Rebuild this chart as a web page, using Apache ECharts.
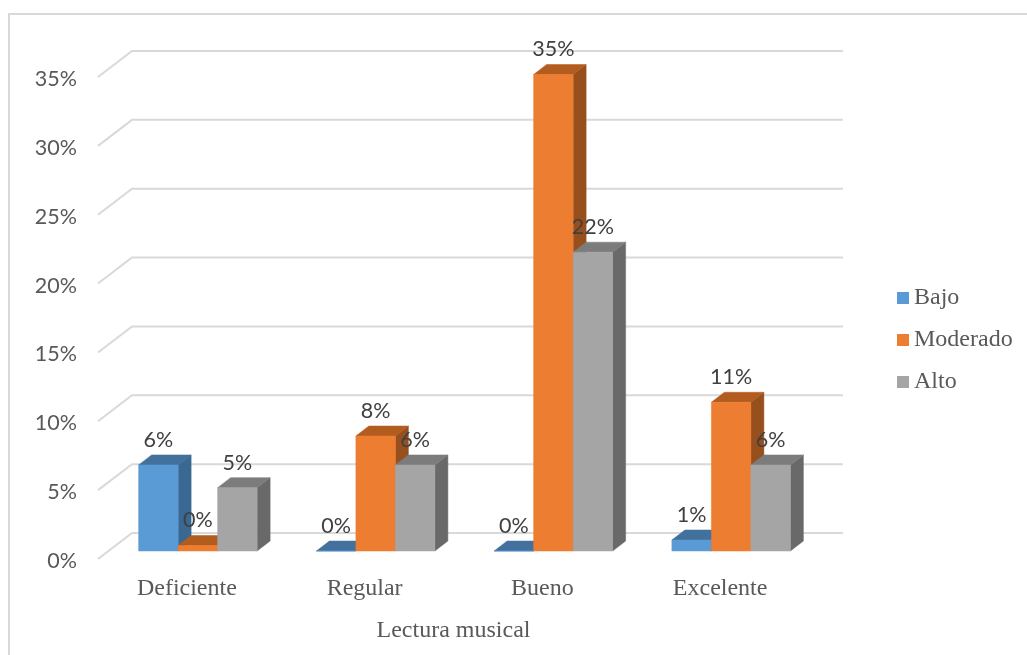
<!DOCTYPE html>
<html><head><meta charset="utf-8">
<style>html,body{margin:0;padding:0;background:#fff}#c{width:1027px;height:655px}</style>
<script src="https://cdn.jsdelivr.net/npm/echarts@6/dist/echarts.min.js"></script>
</head><body><div id="c"></div>
<script>
const categories = ['Deficiente','Regular','Bueno','Excelente'];
const bajo = [6.25, 0, 0, 0.8];
const moderado = [0.4, 8.35, 34.6, 10.8];
const alto = [4.6, 6.25, 21.7, 6.25];
const ticks = [0,5,10,15,20,25,30,35];
const faces = {
  Bajo:{front:'#5b9bd5',top:'#41719c',side:'#396892'},
  Moderado:{front:'#ed7d31',top:'#b35c20',side:'#974f1d'},
  Alto:{front:'#a5a5a5',top:'#7c7c7c',side:'#696969'}
};
const chart = echarts.init(document.getElementById('c'),null,{renderer:'canvas'});
const DX=13, DY=10;
function bar3d(idx,name){
  const f=faces[name];
  return function(params,api){
    const cat=api.value(0), val=api.value(1);
    const band=api.size([1,0])[0];
    const w=band/4.5;
    const base=api.coord([cat,0]);
    const top=api.coord([cat,val]);
    const x0=base[0]-1.5*w+idx*w, x1=x0+w, yb=base[1], yt=top[1];
    const poly=(pts,c)=>({type:'polygon',shape:{points:pts},style:{fill:c,stroke:c,lineWidth:0.5}});
    return {type:'group',children:[
      poly([[x1,yb],[x1+DX,yb-DY],[x1+DX,yt-DY],[x1,yt]],f.side),
      poly([[x0,yt],[x0+DX,yt-DY],[x1+DX,yt-DY],[x1,yt]],f.top),
      poly([[x0,yb],[x1,yb],[x1,yt],[x0,yt]],f.front),
      {type:'text',z2:50,style:{x:(x0+x1)/2,y:yt-25,text:Math.round(val)+'%',align:'center',verticalAlign:'middle',
        font:'21.5px Lato',fill:'#404040'}}
    ]};
  };
}
const wallRender=function(params,api){
  const p=api.coord([0,api.value(0)]);
  const band=api.size([1,0])[0];
  const fx=p[0]-band/2;
  const bx=fx+34, by=p[1]-26;
  return {type:'polyline',shape:{points:[[fx,p[1]],[bx,by],[bx+band*4,by]]},
    style:{stroke:'#d9d9d9',lineWidth:2,fill:null}};
};
function series(name,idx,vals){
  return {name,type:'custom',xAxisIndex:0,yAxisIndex:0,z:5+idx,
    itemStyle:{color:faces[name].front},
    renderItem:bar3d(idx,name),encode:{x:0,y:1},
    data:vals.map((v,i)=>[i,v]),clip:false};
}
chart.setOption({
  animation:false,
  backgroundColor:'#fff',
  graphic:[{type:'polyline',silent:true,z:0,shape:{points:[[9,655],[9,14],[1027,14]]},style:{stroke:'#d9d9d9',lineWidth:2,fill:null}}],
  grid:[
    {left:109,top:69,width:711,height:482},
    {left:98,top:77,width:711,height:482},
    {left:98,top:79,width:711,height:482}
  ],
  xAxis:[
    {gridIndex:0,type:'category',data:categories,show:false},
    {gridIndex:1,type:'category',data:categories,
      axisLine:{show:false},axisTick:{show:false},splitLine:{show:false},
      axisLabel:{margin:18,interval:0,fontFamily:'Liberation Serif',fontSize:24,color:'#595959'},
      name:'Lectura musical',nameLocation:'middle',nameGap:60,
      nameTextStyle:{fontFamily:'Liberation Serif',fontSize:24,color:'#595959'}},
    {gridIndex:2,type:'category',data:categories,show:false}
  ],
  yAxis:[
    {gridIndex:0,type:'value',min:0,max:35,interval:5,show:false},
    {gridIndex:1,type:'value',min:0,max:35,interval:5,show:false},
    {gridIndex:2,type:'value',min:0,max:35,interval:5,
      axisLine:{show:false},axisTick:{show:false},splitLine:{show:false},
      axisLabel:{margin:21,formatter:'{value}%',fontFamily:'Lato',fontSize:21.5,color:'#595959'}}
  ],
  legend:{orient:'vertical',left:897,top:286,padding:0,itemWidth:12,itemHeight:12,itemGap:18,icon:'rect',
    data:['Bajo','Moderado','Alto'],
    textStyle:{fontFamily:'Liberation Serif',fontSize:24,color:'#595959'}},
  series:[
    {type:'custom',silent:true,xAxisIndex:1,yAxisIndex:1,z:1,renderItem:wallRender,
      encode:{y:0},data:ticks.map(t=>[t]),clip:false},
    series('Bajo',0,bajo),
    series('Moderado',1,moderado),
    series('Alto',2,alto)
  ]
});
</script></body></html>
